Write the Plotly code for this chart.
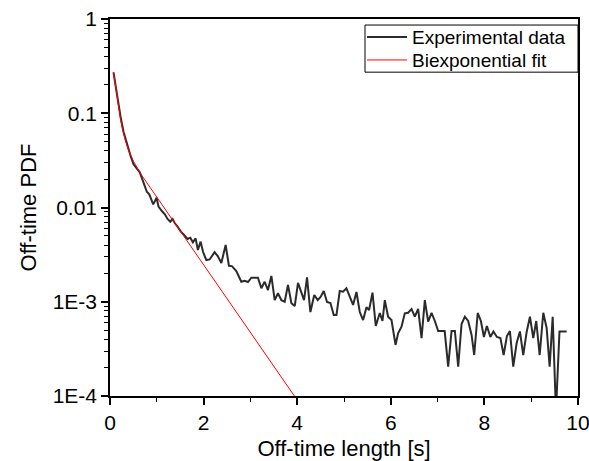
import plotly.graph_objects as go

# Experimental off-time PDF
exp_x = [0.075, 0.160, 0.231, 0.289, 0.359, 0.411, 0.445, 0.503, 0.573, 0.637,
         0.695, 0.744, 0.787, 0.839, 0.888, 0.924, 0.995, 1.037, 1.108, 1.172,
         1.230, 1.288, 1.337, 1.386, 1.444, 1.514, 1.572, 1.658, 1.716, 1.771,
         1.829, 1.878, 1.936, 1.989, 2.058, 2.128, 2.235, 2.306, 2.379, 2.471,
         2.541, 2.605, 2.699, 2.806, 2.877, 2.948, 3.020, 3.091, 3.161, 3.234,
         3.305, 3.375, 3.448, 3.519, 3.589, 3.662, 3.733, 3.803, 3.876, 3.947,
         4.017, 4.090, 4.146, 4.210, 4.282, 4.364, 4.439, 4.503, 4.567, 4.637,
         4.710, 4.781, 4.839, 4.909, 4.980, 5.052, 5.123, 5.194, 5.266, 5.337,
         5.408, 5.480, 5.536, 5.609, 5.679, 5.765, 5.822, 5.872, 5.942, 6.015,
         6.101, 6.156, 6.229, 6.299, 6.370, 6.443, 6.513, 6.584, 6.657, 6.727,
         6.798, 6.871, 6.941, 7.012, 7.080, 7.151, 7.226, 7.298, 7.369, 7.440,
         7.512, 7.583, 7.653, 7.726, 7.782, 7.857, 7.925, 7.989, 8.053, 8.128,
         8.193, 8.267, 8.342, 8.411, 8.481, 8.545, 8.616, 8.689, 8.759, 8.830,
         8.903, 8.973, 9.044, 9.108, 9.181, 9.258, 9.330, 9.394, 9.459, 9.529,
         9.604, 9.679, 9.758]
exp_y = [0.272, 0.144, 0.0884, 0.0637, 0.0480, 0.0398, 0.0346, 0.0287, 0.0256, 0.0236,
         0.0196, 0.0166, 0.0147, 0.0138, 0.0120, 0.0108, 0.0127, 0.0102, 0.00918, 0.00847,
         0.00755, 0.00707, 0.00755, 0.00680, 0.00626, 0.00554, 0.00519, 0.00463, 0.00478, 0.00427,
         0.00471, 0.00354, 0.00434, 0.00337, 0.00277, 0.00281, 0.00335, 0.00304, 0.00258, 0.00400,
         0.00241, 0.00239, 0.00212, 0.00163, 0.00167, 0.00162, 0.00180, 0.00180, 0.00180, 0.00139,
         0.00163, 0.00133, 0.00188, 0.00104, 0.00123, 0.00104, 0.00100, 0.00151, 0.000963, 0.000901,
         0.00159, 0.00125, 0.00104, 0.00181, 0.000778, 0.00118, 0.00104, 0.00113, 0.00130, 0.000994,
         0.000970, 0.000724, 0.000724, 0.00130, 0.00128, 0.00139, 0.00112, 0.000924, 0.00127, 0.000778,
         0.000640, 0.000873, 0.000818, 0.00125, 0.000553, 0.000760, 0.000625, 0.00104, 0.000694, 0.000640,
         0.000348, 0.000463, 0.000544, 0.000754, 0.000765, 0.000838, 0.000694, 0.000838, 0.000410, 0.00104,
         0.000614, 0.000760, 0.000625, 0.000489, 0.000489, 0.000489, 0.000205, 0.000489, 0.000489, 0.000205,
         0.000581, 0.000694, 0.000625, 0.000444, 0.000272, 0.000760, 0.000625, 0.000423, 0.000553, 0.000423,
         0.000484, 0.000423, 0.000412, 0.000272, 0.000433, 0.000489, 0.000205, 0.000365, 0.000484, 0.000272,
         0.000478, 0.000694, 0.000412, 0.000625, 0.000272, 0.000765, 0.000527, 0.000205, 0.000694, 0.0000683,
         0.000484, 0.000484, 0.000484]

# Biexponential fit
fit_x = [0.075, 0.12, 0.17, 0.22, 0.27, 0.33, 0.40, 0.50, 0.65, 3.94]
fit_y = [0.272, 0.185, 0.126, 0.090, 0.067, 0.051, 0.040, 0.031, 0.023, 0.0001]

y_tickvals = [1, 0.1, 0.01, 0.001, 0.0001]
y_ticktext = ["1", "0.1", "0.01", "1E-3", "1E-4"]
y_minor_vals = [m * 10.0 ** e for e in range(-4, 0) for m in range(2, 10)]
x_tickvals = [0, 2, 4, 6, 8, 10]
x_minor_vals = [1, 3, 5, 7, 9]

FONT = "Liberation Sans, Arial, sans-serif"

fig = go.Figure()
fig.add_trace(go.Scatter(x=exp_x, y=exp_y, mode="lines", name="Experimental data",
                         line=dict(color="#2b2b2b", width=2), legend="legend"))
fig.add_trace(go.Scatter(x=fit_x, y=fit_y, mode="lines", name="Biexponential fit",
                         line=dict(color="#ff0000", width=1), legend="legend2"))

axis_common = dict(showline=True, linecolor="#000000", linewidth=1.5, mirror=True,
                   showgrid=False, zeroline=False, ticks="outside", ticklen=7,
                   tickwidth=1.5, tickcolor="#000000", automargin=False,
                   ticklabeloverflow="allow",
                   tickfont=dict(family=FONT, size=21, color="#000000"))

fig.update_xaxes(range=[0, 10], tickmode="array", tickvals=x_tickvals,
                 minor=dict(tickmode="array", tickvals=x_minor_vals, ticks="outside",
                            ticklen=4, tickwidth=1.2, tickcolor="#000000"),
                 title=dict(text="Off-time length [s]", font=dict(family=FONT, size=22, color="#000000"),
                            standoff=14),
                 **axis_common)
fig.update_yaxes(type="log", range=[-4, 0], tickmode="array", tickvals=y_tickvals, ticktext=y_ticktext,
                 minor=dict(tickmode="array", tickvals=y_minor_vals, ticks="outside",
                            ticklen=4, tickwidth=1, tickcolor="#000000"),
                 title=dict(text="Off-time PDF", font=dict(family=FONT, size=22, color="#000000"),
                            standoff=10),
                 **axis_common)

legend_common = dict(xanchor="left", yanchor="middle", bgcolor="rgba(0,0,0,0)",
                     borderwidth=0, font=dict(family=FONT, size=19, color="#000000"),
                     itemwidth=40)

fig.update_layout(
    width=589, height=461,
    margin=dict(l=110, r=11, t=19, b=65, autoexpand=False),
    paper_bgcolor="white", plot_bgcolor="white",
    font=dict(family=FONT, color="#000000"),
    showlegend=True,
    legend=dict(x=0.5385, y=0.952, **legend_common),
    legend2=dict(x=0.5385, y=0.891, **legend_common),
    shapes=[dict(type="rect", xref="paper", yref="paper", x0=0.5449, x1=1.0, y0=0.859, y1=0.984,
                 line=dict(color="#000000", width=1), fillcolor="white", layer="below")],
)

fig.write_html("out.html", config={"displayModeBar": False},
               post_script="document.body.style.margin='0px';document.body.style.overflow='hidden';")
